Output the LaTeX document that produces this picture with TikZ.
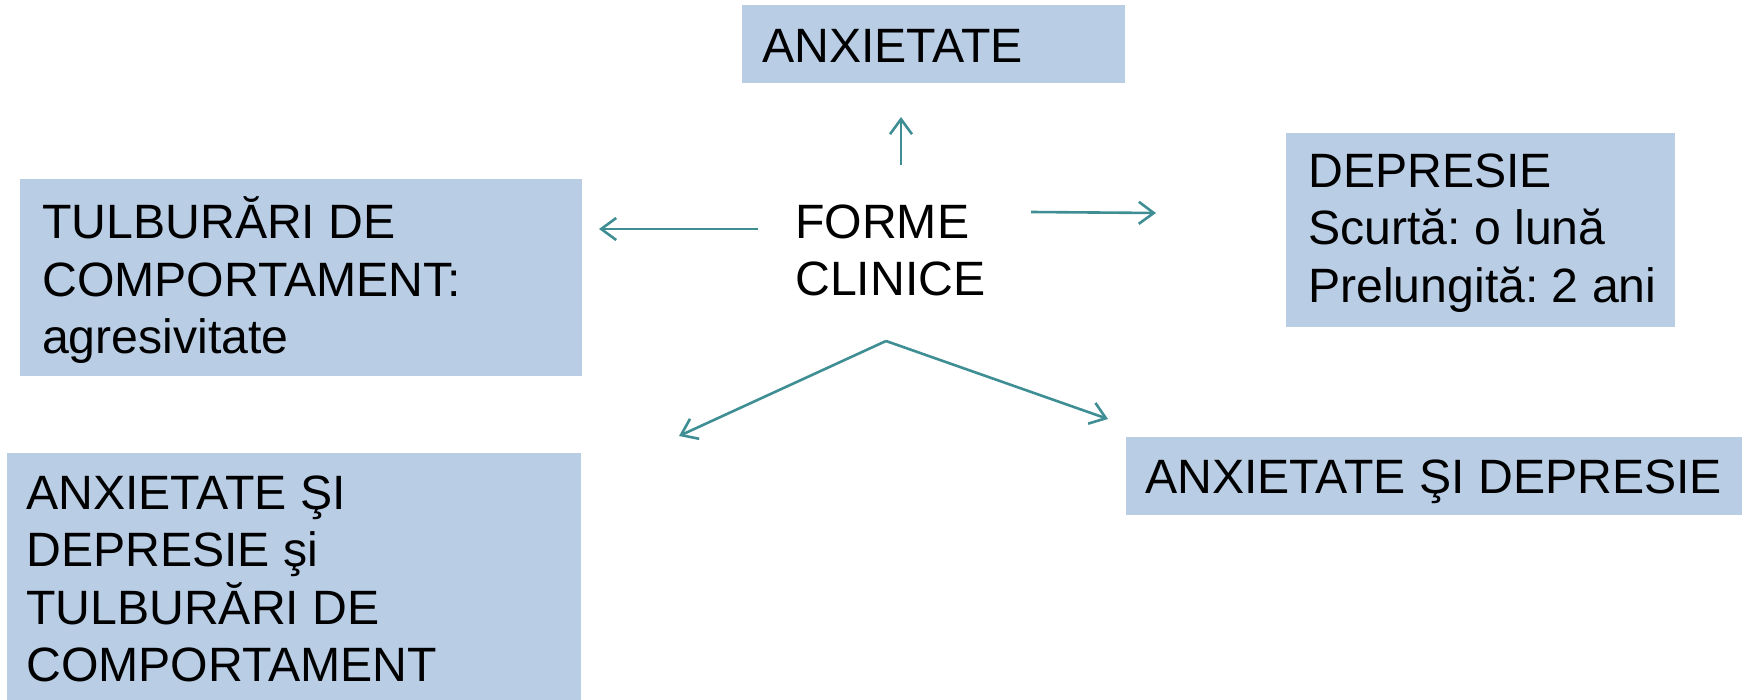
\documentclass[tikz,border=0pt]{standalone}
\usepackage{fontspec}
\setmainfont{Liberation Sans}
\usetikzlibrary{arrows.meta}
\frenchspacing
\definecolor{boxfill}{RGB}{185,205,229}
\definecolor{arrowcol}{RGB}{62,142,148}
\tikzset{
  boxshape/.style={rectangle, fill=boxfill, draw=none, inner sep=0pt, anchor=north west},
  boxtext/.style={anchor=north west, inner sep=0pt, align=left,
    font=\fontsize{48.2}{57.5}\selectfont},
  conn/.style={draw=arrowcol, line width=2.6pt,
    -{Straight Barb[length=15pt,width=22pt,line width=2.6pt]}}
}
\newcommand{\bx}[5]{% name, x0, y0, x1, y1
  \path (#2,#3) node[boxshape, minimum width={(#4-#2)*1pt}, minimum height={(#5-#3)*1pt}] (#1) {};}
\begin{document}
\begin{tikzpicture}[x=1pt,y=-1pt]
\useasboundingbox (0,0) rectangle (1748,700);
% boxes
\bx{anxbox}{742}{5}{1125}{83}
\bx{depbox}{1286}{133}{1675}{327}
\bx{tulbox}{20}{179}{582}{376}
\bx{alldbox}{7}{453}{581}{700}
\bx{adbox}{1126}{437}{1742}{515}
% texts (first baseline minus 0.7 baselineskip)
\node[boxtext] (anx) at (762,{62-40.25}) {\strut ANXIETATE};
\node[boxtext] (dep) at (1308,{187-40.25}) {\strut DEPRESIE\\Scurtă: o lună\\Prelungită: 2 ani};
\node[boxtext] (tul) at (42,{237-40.25}) {\strut TULBURĂRI DE\\COMPORTAMENT:\\agresivitate};
\node[boxtext] (alld) at (26,{509-40.25}) {\strut ANXIETATE ŞI\\DEPRESIE şi\\TULBURĂRI DE\\COMPORTAMENT};
\node[boxtext] (ad) at (1145,{493-40.25}) {\strut ANXIETATE ŞI DEPRESIE};
\node[boxtext] (forme) at (795,{238-40.25}) {\strut FORME\\CLINICE};
% arrow end points
\coordinate (upS) at (901,165);
\coordinate (upE) at (901,117);
\coordinate (rS) at (1031,212);
\coordinate (rE) at (1156,213);
\coordinate (lS) at (758,229);
\coordinate (lE) at (599,229);
\coordinate (apex) at (886,341);
\coordinate (blE) at (679,436);
\coordinate (brE) at (1108,419);
% connectors
\draw[conn] (upS) -- (upE);
\draw[conn] (rS) -- (rE);
\draw[conn] (lS) -- (lE);
\draw[conn] (apex) -- (blE);
\draw[conn] (apex) -- (brE);
\end{tikzpicture}
\end{document}
